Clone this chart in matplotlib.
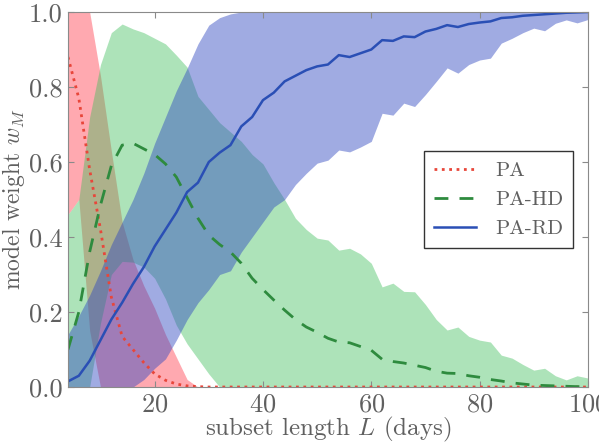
import matplotlib
matplotlib.use('Agg')
import matplotlib.pyplot as plt

# subset length in days
L = [4, 6, 8, 10, 12, 14, 16, 18, 20, 22, 24, 26, 28, 30, 32, 34, 36, 38, 40, 42,
     44, 46, 48, 50, 52, 54, 56, 58, 60, 62, 64, 66, 68, 70, 72, 74, 76, 78, 80, 82,
     84, 86, 88, 90, 92, 94, 96, 98, 100]

# PA model weight: mean and band
pa_mean = [0.88, 0.77, 0.58, 0.42, 0.24, 0.135, 0.10, 0.065, 0.035, 0.018, 0.008, 0.003, 0.001,
           0, 0, 0, 0, 0, 0, 0, 0, 0, 0, 0, 0, 0, 0, 0, 0, 0, 0, 0, 0, 0, 0, 0, 0, 0, 0, 0,
           0, 0, 0, 0, 0, 0, 0, 0, 0]
pa_lo = [0.46, 0.50, 0.15, 0, 0, 0, 0, 0, 0, 0, 0, 0, 0, 0, 0, 0, 0, 0, 0, 0,
         0, 0, 0, 0, 0, 0, 0, 0, 0, 0, 0, 0, 0, 0, 0, 0, 0, 0, 0, 0,
         0, 0, 0, 0, 0, 0, 0, 0, 0]
pa_hi = [1.0, 1.0, 1.0, 0.83, 0.63, 0.44, 0.34, 0.27, 0.21, 0.14, 0.08, 0.02,
         0, 0, 0, 0, 0, 0, 0, 0, 0, 0, 0, 0, 0, 0, 0, 0, 0, 0, 0, 0, 0, 0, 0, 0, 0,
         0, 0, 0, 0, 0, 0, 0, 0, 0, 0, 0, 0]

# PA-HD model weight
hd_mean = [0.10, 0.20, 0.36, 0.485, 0.59, 0.645, 0.65, 0.635, 0.62, 0.595, 0.56, 0.505,
           0.45, 0.405, 0.38, 0.36, 0.33, 0.29, 0.26, 0.232, 0.205, 0.18, 0.16, 0.146,
           0.13, 0.12, 0.118, 0.108, 0.098, 0.074, 0.068, 0.064, 0.058, 0.052, 0.042,
           0.037, 0.036, 0.03, 0.026, 0.02, 0.016, 0.011, 0.008, 0.005, 0.004, 0.003,
           0.002, 0.001, 0.001]
hd_lo = [0, 0, 0, 0.17, 0.30, 0.335, 0.333, 0.32, 0.29, 0.235, 0.165, 0.115, 0.075, 0.035,
         0, 0, 0, 0, 0, 0, 0, 0, 0, 0, 0, 0, 0, 0, 0, 0, 0, 0, 0, 0, 0, 0, 0, 0, 0, 0,
         0, 0, 0, 0, 0, 0, 0, 0, 0]
hd_hi = [0.46, 0.50, 0.72, 0.86, 0.945, 0.968, 0.955, 0.945, 0.93, 0.915, 0.885, 0.853,
         0.775, 0.74, 0.705, 0.68, 0.655, 0.62, 0.595, 0.545, 0.50, 0.45, 0.42, 0.397,
         0.392, 0.365, 0.37, 0.355, 0.33, 0.267, 0.277, 0.255, 0.254, 0.22, 0.18, 0.152,
         0.16, 0.135, 0.125, 0.12, 0.085, 0.077, 0.06, 0.045, 0.05, 0.03, 0.019, 0.03, 0.024]

# PA-RD model weight
rd_mean = [0.015, 0.03, 0.07, 0.125, 0.18, 0.225, 0.275, 0.32, 0.375, 0.42, 0.465, 0.52,
           0.545, 0.60, 0.625, 0.645, 0.695, 0.72, 0.765, 0.785, 0.815, 0.83, 0.845, 0.855,
           0.86, 0.885, 0.88, 0.89, 0.90, 0.925, 0.923, 0.935, 0.933, 0.948, 0.955, 0.965,
           0.96, 0.968, 0.972, 0.975, 0.984, 0.986, 0.99, 0.992, 0.994, 0.996, 0.998, 0.999, 1.0]
rd_lo = [0, 0, 0, 0, 0, 0, 0, 0.02, 0.05, 0.075, 0.125, 0.18, 0.225, 0.26, 0.30, 0.31,
         0.36, 0.40, 0.44, 0.48, 0.50, 0.54, 0.57, 0.597, 0.605, 0.632, 0.627, 0.64, 0.655,
         0.73, 0.725, 0.757, 0.748, 0.78, 0.815, 0.851, 0.837, 0.86, 0.872, 0.877, 0.917,
         0.93, 0.945, 0.957, 0.95, 0.97, 0.979, 0.971, 0.98]
rd_hi = [0.14, 0.19, 0.245, 0.31, 0.38, 0.44, 0.50, 0.57, 0.65, 0.72, 0.79, 0.85, 0.915,
         0.965, 0.985, 0.995, 1, 1, 1, 1, 1, 1, 1, 1, 1, 1, 1, 1, 1, 1, 1, 1, 1, 1, 1, 1,
         1, 1, 1, 1, 1, 1, 1, 1, 1, 1, 1, 1, 1]

plt.rcParams['font.family'] = 'serif'
plt.rcParams['font.serif'] = ['cmr10']
plt.rcParams['mathtext.fontset'] = 'cm'
plt.rcParams['axes.formatter.use_mathtext'] = True

txt_col = '#606060'
edge_col = '#8a8a8a'

fig = plt.figure(figsize=(5.99, 4.45), dpi=100)
ax = fig.add_axes([0.1135, 0.1303, 0.868, 0.8427])

# bands
ax.fill_between(L, pa_lo, pa_hi, color='#ff3344', alpha=0.42, lw=0)
ax.fill_between(L, hd_lo, hd_hi, color='#3cbe5a', alpha=0.42, lw=0)
ax.fill_between(L, rd_lo, rd_hi, color='#3048c0', alpha=0.46, lw=0)

# mean lines
ax.plot(L, pa_mean, ':', color='#e8463a', lw=2, label='PA')
ax.plot(L, hd_mean, '--', color='#2e8b3e', lw=2, dashes=(5, 4), label='PA-HD')
ax.plot(L, rd_mean, '-', color='#2a4fb5', lw=1.8, label='PA-RD')

ax.set_xlim(4, 100)
ax.set_ylim(0, 1)
ax.set_xticks([20, 40, 60, 80, 100])
ax.set_yticks([0.0, 0.2, 0.4, 0.6, 0.8, 1.0])
ax.set_yticklabels(['0.0', '0.2', '0.4', '0.6', '0.8', '1.0'])

ax.tick_params(direction='in', top=True, right=True, length=4, color=edge_col,
               labelsize=19, labelcolor=txt_col, pad=4)
for s in ax.spines.values():
    s.set_color(edge_col)

ax.set_xlabel('subset length $L$ (days)', fontsize=18, color=txt_col, labelpad=-1)
ax.set_ylabel('model weight $w_M$', fontsize=17, color=txt_col, labelpad=1)

leg = ax.legend(loc='center right', fontsize=15, fancybox=False, framealpha=1,
                handlelength=2.0, borderpad=0.5, labelspacing=0.5, handletextpad=0.9,
                borderaxespad=0.7)
leg.get_frame().set_edgecolor('#333333')
for t in leg.get_texts():
    t.set_color(txt_col)

fig.savefig('out.png', dpi=100)
